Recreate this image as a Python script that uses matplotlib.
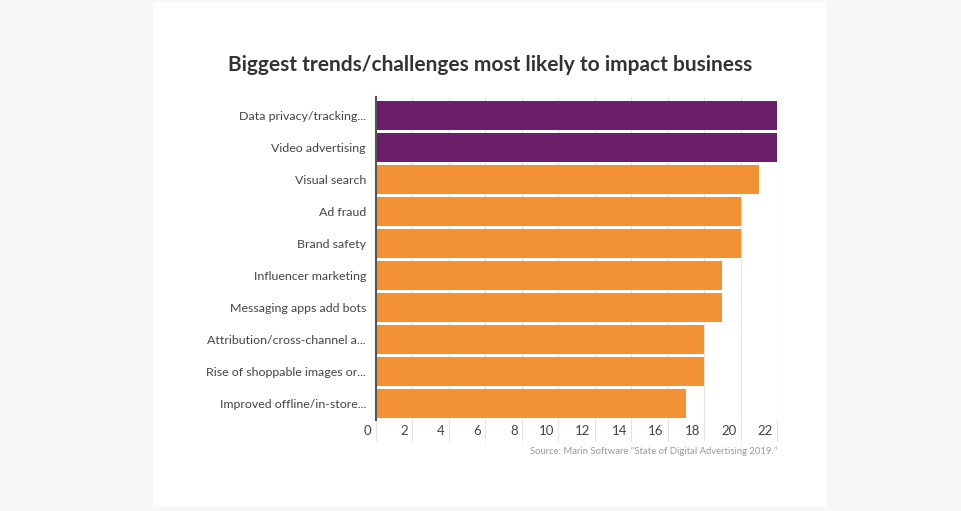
import matplotlib
matplotlib.use("Agg")
import matplotlib.pyplot as plt
from matplotlib.patches import Rectangle
from matplotlib.transforms import ScaledTranslation

# chart data
categories = [
    "Data privacy/tracking...",
    "Video advertising",
    "Visual search",
    "Ad fraud",
    "Brand safety",
    "Influencer marketing",
    "Messaging apps add bots",
    "Attribution/cross-channel a...",
    "Rise of shoppable images or...",
    "Improved offline/in-store...",
]
values = [22, 22, 21, 20, 20, 19, 19, 18, 18, 17]
highlighted = [True, True, False, False, False, False, False, False, False, False]
x_ticks = [0, 2, 4, 6, 8, 10, 12, 14, 16, 18, 20, 22]

title = "Biggest trends/challenges most likely to impact business"
source = 'Source: Marin Software "State of Digital Advertising 2019."'

PURPLE = "#6b1f6b"
ORANGE = "#f39234"
TEXT = "#444444"
GRID = "#e4e4e4"

plt.rcParams["font.family"] = ["Lato", "DejaVu Sans"]

W, H = 962, 511
fig = plt.figure(figsize=(W / 100, H / 100), dpi=100)
fig.patch.set_facecolor("#f7f7f7")

# white card behind the chart
fig.patches.append(Rectangle((153 / W, 1 - 507 / H), (827 - 153) / W, (507 - 2) / H,
                             transform=fig.transFigure, facecolor="white",
                             edgecolor="none", zorder=-10))

ax = fig.add_axes([375.7 / W, 1 - 420 / H, (777.2 - 375.7) / W, (420 - 97) / H])
ax.set_facecolor("none")
ax.set_zorder(1)

colors = [PURPLE if h else ORANGE for h in highlighted]
ypos = list(range(len(categories)))
ax.barh(ypos, values, height=0.89, color=colors, zorder=2)

ax.set_xlim(0, 22)
ax.set_ylim(9.51, -0.58)
ax.set_yticks(ypos)
ax.set_yticklabels(categories, fontsize=8.9, color=TEXT)
ax.tick_params(axis="y", length=0, pad=7)

ax.set_xticks(x_ticks)
ax.set_xticklabels([str(t) for t in x_ticks], fontsize=9.5, color=TEXT)
ax.tick_params(axis="x", length=15, width=0.8, color=GRID, pad=-11.5)
for lab in ax.get_xticklabels():
    lab.set_horizontalalignment("right")
    lab.set_transform(lab.get_transform() + ScaledTranslation(-3 / 72, 0, fig.dpi_scale_trans))

ax.grid(axis="x", color=GRID, linewidth=0.8, zorder=0)
for s in ["top", "right", "bottom"]:
    ax.spines[s].set_visible(False)
ax.spines["left"].set_color("#555555")
ax.spines["left"].set_linewidth(1.5)
ax.spines["left"].set_zorder(3)

fig.text(490 / W, 1 - 65 / H, title, ha="center", va="center", fontsize=15,
         fontweight="bold", color="#333333")
fig.text(777 / W, 1 - 451 / H, source, ha="right", va="center", fontsize=6.8,
         color="#999999")

fig.savefig("out.png", dpi=100, facecolor=fig.get_facecolor())
